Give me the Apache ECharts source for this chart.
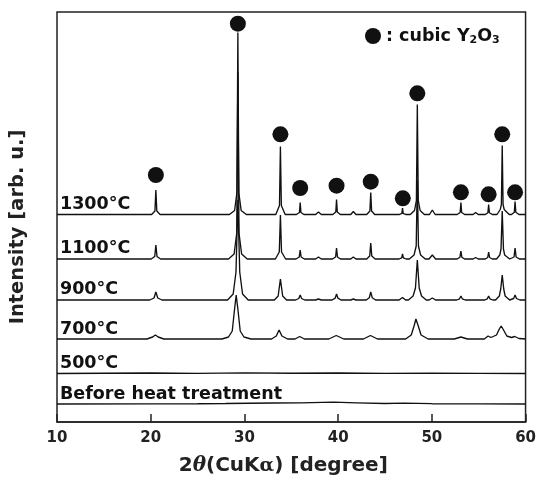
<!DOCTYPE html>
<html>
<head>
<meta charset="utf-8">
<script src="https://cdn.jsdelivr.net/npm/echarts@6/dist/echarts.min.js"></script>
<style>
  html, body { margin: 0; padding: 0; background: #fff; }
  #xrd { width: 539px; height: 483px; }
</style>
</head>
<body>
<div id="xrd"></div>
<script>
// XRD patterns, [2theta, intensity above the pattern's own baseline]
const p1300 = [[10,0],[20.1,0],[20.45,3.5],[20.55,24.5],[20.65,3.5],[21.0,0],
  [28.4,0],[28.95,4],[29.2,22],[29.3,182],[29.4,22],[29.65,4],[30.2,0],
  [31.3,0],[31.5,1.2],[31.7,0],
  [33.35,0],[33.74,9],[33.84,68],[33.94,9],[34.35,0],
  [35.55,0],[35.87,2],[35.95,12],[36.03,2],[36.35,0],
  [37.6,0],[37.9,2.5],[38.2,0],
  [39.43,0],[39.75,2.5],[39.83,15],[39.91,2.5],[40.23,0],
  [41.35,0],[41.62,3],[41.9,0],
  [43.05,0],[43.39,3.5],[43.48,22],[43.57,3.5],[43.9,0],
  [46.55,0],[46.8,1.2],[46.87,6.5],[46.94,1.2],[47.2,0],
  [47.7,0],[48.15,4],[48.35,14],[48.45,110],[48.55,14],[48.75,4],[49.2,0],
  [49.75,0],[50.05,4.5],[50.35,0],
  [52.7,0],[53.02,2],[53.1,12],[53.18,2],[53.5,0],
  [54.4,0],[54.67,2],[54.95,0],
  [55.7,0],[55.98,1.8],[56.06,10],[56.14,1.8],[56.45,0],
  [56.95,0],[57.3,5],[57.42,10],[57.51,69],[57.6,10],[57.72,5],[58.25,0],
  [58.5,0],[58.8,2.2],[58.88,13],[58.96,2.2],[59.3,0],[60,0]];

const p1100 = [[10,0],[20.05,0],[20.43,2.5],[20.55,14],[20.67,2.5],[21.05,0],
  [28.3,0],[28.9,5],[29.18,26],[29.3,187],[29.42,26],[29.7,5],[30.3,0],
  [33.3,0],[33.72,7],[33.84,44],[33.96,7],[34.4,0],
  [35.5,0],[35.85,2],[35.95,9],[36.05,2],[36.4,0],
  [37.6,0],[37.9,2],[38.2,0],
  [39.4,0],[39.73,2],[39.83,11],[39.93,2],[40.25,0],
  [41.35,0],[41.62,2],[41.9,0],
  [43.05,0],[43.37,3],[43.48,16],[43.59,3],[43.95,0],
  [46.5,0],[46.78,1.2],[46.87,5],[46.96,1.2],[47.25,0],
  [47.6,0],[48.1,4],[48.33,13],[48.45,79],[48.57,13],[48.8,4],[49.3,0],
  [49.7,0],[50.05,4],[50.4,0],
  [52.7,0],[53.0,1.8],[53.1,8],[53.2,1.8],[53.5,0],
  [54.4,0],[54.67,1.5],[54.95,0],
  [55.7,0],[55.96,1.5],[56.06,7],[56.16,1.5],[56.45,0],
  [56.9,0],[57.25,4],[57.38,10],[57.51,48],[57.64,10],[57.77,4],[58.3,0],
  [58.45,0],[58.77,2],[58.88,11],[58.99,2],[59.35,0],[60,0]];

const p900 = [[10,0],[19.9,0],[20.35,2],[20.55,8],[20.75,2],[21.2,0],
  [28.2,0],[28.8,6],[29.1,28],[29.3,100],[29.5,28],[29.8,6],[30.4,0],
  [33.2,0],[33.6,4],[33.84,21],[34.08,4],[34.5,0],
  [35.45,0],[35.8,1.5],[35.95,5],[36.1,1.5],[36.45,0],
  [37.6,0],[37.9,1],[38.2,0],
  [39.35,0],[39.68,1.8],[39.83,6],[39.98,1.8],[40.3,0],
  [41.35,0],[41.62,1],[41.9,0],
  [43.0,0],[43.32,2.2],[43.48,8],[43.64,2.2],[44.0,0],
  [46.5,0],[46.87,2.5],[47.2,0],
  [47.5,0],[48.0,4],[48.25,12],[48.45,40],[48.65,12],[48.9,4],[49.4,0],
  [49.7,0],[50.05,2],[50.4,0],
  [52.65,0],[52.95,1.2],[53.1,4],[53.25,1.2],[53.55,0],
  [55.65,0],[55.92,1.2],[56.06,4],[56.2,1.2],[56.5,0],
  [56.8,0],[57.2,4],[57.35,11],[57.51,25],[57.67,11],[57.82,4],[58.3,0],
  [58.45,0],[58.73,1.5],[58.88,5],[59.03,1.5],[59.4,0],[60,0]];

const p700 = [[10,0],[19.6,0],[20.2,2],[20.5,4],[20.8,2],[21.4,0],
  [27.6,0],[28.3,2],[28.7,8],[28.95,30],[29.12,44],[29.3,30],[29.55,8],[29.95,2],[30.7,0],
  [32.9,0],[33.4,3],[33.7,9],[34.0,3],[34.6,0],
  [35.4,0],[35.9,2.5],[36.4,0],
  [39.0,0],[39.8,3.5],[40.6,0],
  [42.7,0],[43.45,3.5],[44.2,0],
  [47.2,0],[47.8,4],[48.1,13],[48.3,20],[48.55,13],[48.85,4],[49.6,0],
  [52.4,0],[53.1,2],[53.8,0],
  [55.6,0],[56.0,3],[56.3,1.5],[56.9,4],[57.2,10],[57.4,13],[57.65,9],[58.0,3],
  [58.5,1.5],[58.85,2.5],[59.3,0.5],[60,0]];

const p500 = [[10,0],[15,0.3],[20,0.5],[25,0.2],[30,0.6],[35,0.3],[40,0.5],
  [45,0.2],[50,0.4],[55,0.2],[60,0]];

const pBefore = [[10,0],[20,0.2],[25,0.3],[28,0.5],[33,1],[36,1.2],[39.5,1.8],
  [42,1.2],[45,0.5],[47,0.8],[50,0.3],[55,0.2],[60,0]];

// cubic Y2O3 reflection markers above the 1300 °C pattern
const y2o3Pos = [20.55, 29.3, 33.84, 35.95, 39.83, 43.48, 46.9, 48.45, 53.1, 56.06, 57.51, 58.88];
const y2o3Mark = [247, 398.3, 287.7, 234, 236.3, 240.3, 223.7, 328.7, 229.7, 227.7, 287.7, 229.7];

const xTicks = [10, 20, 30, 40, 50, 60];

// vertical stacking of the patterns
const stacks = [
  { name: '1300°C', data: p1300, base: 207.5, top: 195 },
  { name: '1100°C', data: p1100, base: 163, top: 239 },
  { name: '900°C', data: p900, base: 122, top: 280.5 },
  { name: '700°C', data: p700, base: 83, top: 320 },
  { name: '500°C', data: p500, base: 48.5, top: 354.5 },
  { name: 'Before heat treatment', data: pBefore, base: 18, top: 385 }
];

const font = '"DejaVu Sans", sans-serif';
const ink = '#111';

let chart = echarts.init(document.getElementById('xrd'));

let series = stacks.map(s => {
  return {
    name: s.name,
    type: 'line',
    symbol: 'none',
    lineStyle: { color: ink, width: 1.35 },
    data: s.data.map(p => [p[0], p[1] + s.base])
  };
});
series.push({
  name: 'cubic',
  type: 'scatter',
  symbol: 'circle',
  symbolSize: 16,
  itemStyle: { color: '#111', opacity: 1 },
  z: 5,
  data: y2o3Pos.map((x, i) => [x, y2o3Mark[i]])
});

chart.setOption({
  animation: false,
  grid: {
    left: 52, right: 11, top: 12, bottom: 61,
    show: true, borderColor: '#222', borderWidth: 1.5
  },
  legend: {
    data: ['cubic'],
    left: 360, top: 22,
    icon: 'circle',
    itemWidth: 16, itemHeight: 16,
    itemStyle: { opacity: 1 },
    formatter: () => ': cubic Y{s|2}O{s|3}',
    textStyle: {
      fontFamily: font, fontWeight: 'bold', fontSize: 17.5, color: '#111',
      rich: { s: { fontFamily: font, fontWeight: 'bold', fontSize: 11, color: '#111', padding: [9, 0, 0, 0] } }
    }
  },
  xAxis: {
    type: 'value',
    min: xTicks[0], max: xTicks[xTicks.length - 1], interval: 10,
    axisLine: { lineStyle: { color: '#222', width: 1.5 } },
    axisTick: { inside: true, length: 8, lineStyle: { color: '#222', width: 1.5 } },
    axisLabel: { color: '#222', fontFamily: font, fontWeight: 'bold', fontSize: 15, margin: 9 },
    splitLine: { show: false },
    name: '2{i|θ}(CuK{a|α}) [degree]',
    nameLocation: 'middle',
    nameGap: 34,
    nameTextStyle: {
      color: '#222', fontFamily: font, fontWeight: 'bold', fontSize: 20,
      padding: [0, 16, 0, 0],
      rich: {
        i: { fontFamily: 'DejaVu Serif', fontStyle: 'italic', fontSize: 20, color: '#222' },
        a: { fontFamily: 'DejaVu Serif', fontSize: 19, color: '#222' }
      }
    }
  },
  yAxis: {
    type: 'value',
    min: 0, max: 410,
    axisLine: { show: false },
    axisTick: { show: false },
    axisLabel: { show: false },
    splitLine: { show: false },
    name: 'Intensity [arb. u.]',
    nameLocation: 'middle',
    nameGap: 29,
    nameTextStyle: {
      color: '#222', fontFamily: font, fontWeight: 'bold', fontSize: 19.5,
      padding: [0, 20, 0, 0]
    }
  },
  graphic: stacks.map(s => {
    return {
      type: 'text',
      left: 60,
      top: s.top,
      style: { text: s.name, font: 'bold 17.5px ' + font, fill: '#111' }
    };
  }),
  series: series
});
</script>
</body>
</html>
